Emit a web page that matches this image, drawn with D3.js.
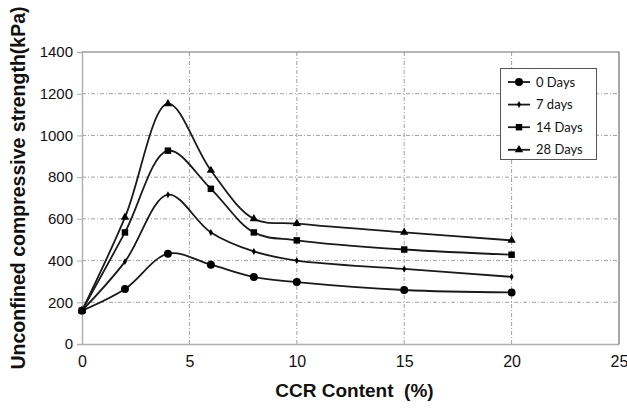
<!DOCTYPE html>
<html>
<head>
<meta charset="utf-8">
<script src="https://cdn.jsdelivr.net/npm/d3@7"></script>
<style>
  body { margin: 0; background: #fff; }
  svg { display: block; }
</style>
</head>
<body>
<svg id="chart"></svg>
<script>
// données
const ccrContent = [0, 2, 4, 6, 8, 10, 15, 20];
const days0  = [160, 264, 433, 380, 321, 297, 259, 247];
const days7  = [160, 395, 716, 535, 444, 400, 360, 322];
const days14 = [160, 535, 927, 744, 535, 497, 453, 428];
const days28 = [160, 607, 1152, 832, 600, 577, 535, 497];
const seriesNames = ["0 Days", "7 days", "14 Days", "28 Days"];
const xTicks = [0, 5, 10, 15, 20, 25];
const yTicks = [0, 200, 400, 600, 800, 1000, 1200, 1400];

const width = 627, height = 408;
const svg = d3.select("#chart").attr("width", width).attr("height", height);

const x = d3.scaleLinear().domain([0, 25]).range([82, 619]);
const y = d3.scaleLinear().domain([0, 1400]).range([344, 52]);

// grille en tirets-points
const grid = svg.append("g");
grid.selectAll(".hg")
    .data(yTicks.filter(d => d > 0 && d < 1400))
    .join("line")
    .attr("x1", x(0)).attr("x2", x(25))
    .attr("y1", d => y(d)).attr("y2", d => y(d))
    .attr("stroke", "#a0a0a0").attr("stroke-width", 1)
    .attr("stroke-dasharray", "4,2,1,2");
grid.selectAll(".vg")
    .data(xTicks.filter(d => d > 0 && d < 25))
    .join("line")
    .attr("x1", d => x(d)).attr("x2", d => x(d))
    .attr("y1", y(0)).attr("y2", y(1400))
    .attr("stroke", "#a0a0a0").attr("stroke-width", 1)
    .attr("stroke-dasharray", "4,2,1,2");

// bordure haut et droite
svg.append("path")
    .attr("d", `M${x(0)},${y(1400)}H${x(25)}V${y(0)}`)
    .attr("fill", "none").attr("stroke", "#6e6e6e").attr("stroke-width", 1.2);

// axes
const xAxis = svg.append("g")
    .attr("transform", `translate(0,${y(0)})`)
    .call(d3.axisBottom(x).tickValues(xTicks).tickFormat(d3.format("d")).tickSize(0).tickPadding(12));
const yAxis = svg.append("g")
    .attr("transform", `translate(${x(0)},0)`)
    .call(d3.axisLeft(y).tickValues(yTicks).tickFormat(d3.format("d")).tickSize(5).tickPadding(4));

[xAxis, yAxis].forEach(ax => {
    ax.attr("font-size", null).attr("font-family", null);
    ax.select(".domain").attr("stroke", "#b0b0b0").attr("stroke-width", 1.5);
    ax.selectAll(".tick line").attr("stroke", "#b0b0b0");
    ax.selectAll("text")
        .style("font-family", "'Liberation Sans', Arial, sans-serif")
        .attr("fill", "#111");
});
xAxis.selectAll("text").style("font-size", "16px");
yAxis.selectAll("text").style("font-size", "15px");

// titres des axes
svg.append("text")
    .attr("x", (x(0) + x(25)) / 2 + 4).attr("y", 397)
    .attr("text-anchor", "middle")
    .style("white-space", "pre")
    .style("font-family", "'Liberation Sans', Arial, sans-serif")
    .style("font-size", "19px").attr("font-weight", "bold")
    .attr("fill", "#111")
    .text("CCR Content  (%)");

svg.append("text")
    .attr("transform", "translate(25,188) rotate(-90)")
    .attr("text-anchor", "middle")
    .style("font-family", "'Liberation Sans', Arial, sans-serif")
    .style("font-size", "19.5px").attr("font-weight", "bold")
    .attr("fill", "#111")
    .text("Unconfined compressive strength(kPa)");

// séries
const series = [
    { name: seriesNames[0], values: days0,  symbol: d3.symbolCircle,   size: 50 },
    { name: seriesNames[1], values: days7,  symbol: d3.symbolDiamond,  size: 14 },
    { name: seriesNames[2], values: days14, symbol: d3.symbolSquare,   size: 42 },
    { name: seriesNames[3], values: days28, symbol: d3.symbolTriangle, size: 30 }
];

const line = d3.line()
    .x((d, i) => x(ccrContent[i]))
    .y(d => y(d))
    .curve(d3.curveCatmullRom.alpha(0.5));

series.forEach(s => {
    svg.append("path")
        .datum(s.values)
        .attr("d", line)
        .attr("fill", "none")
        .attr("stroke", "#1a1a1a")
        .attr("stroke-width", 1.8);

    svg.selectAll(null)
        .data(s.values)
        .join("path")
        .attr("d", d3.symbol().type(s.symbol).size(s.size))
        .attr("transform", (d, i) => `translate(${x(ccrContent[i])},${y(d)})`)
        .attr("fill", "#000");
});

// légende
const legend = svg.append("g");
legend.append("rect")
    .attr("x", 500.5).attr("y", 68.5)
    .attr("width", 96).attr("height", 91)
    .attr("fill", "#fff").attr("stroke", "#555").attr("stroke-width", 1);

series.forEach((s, i) => {
    const ly = 82 + i * 22.6;
    legend.append("line")
        .attr("x1", 508).attr("x2", 530)
        .attr("y1", ly).attr("y2", ly)
        .attr("stroke", "#1a1a1a").attr("stroke-width", 1.8);
    legend.append("path")
        .attr("d", d3.symbol().type(s.symbol).size(s.size))
        .attr("transform", `translate(519,${ly})`)
        .attr("fill", "#000");
    legend.append("text")
        .attr("x", 536).attr("y", ly + 4.5)
        .style("font-family", "Lato, 'Open Sans', sans-serif")
        .style("font-size", "13px")
        .attr("fill", "#111")
        .text(s.name);
});
</script>
</body>
</html>
